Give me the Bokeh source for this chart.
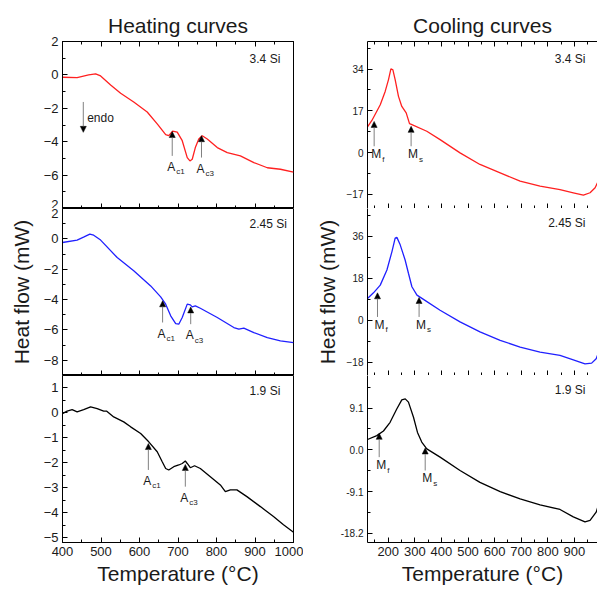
from bokeh.plotting import figure
from bokeh.models import (LinearAxis, FixedTicker, SingleIntervalTicker, Range1d,
                          Label, Arrow, NormalHead, Title, PrintfTickFormatter,
                          CustomJSTickFormatter)
from bokeh.layouts import row, column
from bokeh.embed import file_html
from bokeh.resources import INLINE

FONT = "Liberation Sans"

# ---------------- data ----------------
heat_T_34 = [400, 438, 468, 486, 499, 525, 551, 585, 620, 646, 668, 676, 686, 698, 711, 724, 731, 737, 745, 754, 763, 776, 802, 828, 862, 897, 932, 966, 1000]
heat_HF_34 = [-0.14, -0.16, 0.0, 0.06, -0.06, -0.6, -1.1, -1.62, -2.22, -2.93, -3.58, -3.64, -3.37, -3.43, -3.94, -4.95, -5.15, -5.05, -4.35, -3.84, -3.64, -3.84, -4.35, -4.65, -4.85, -5.25, -5.56, -5.65, -5.82]

heat_T_245 = [400, 438, 456, 471, 481, 499, 542, 585, 629, 655, 668, 681, 694, 702, 711, 724, 732, 737, 745, 758, 802, 845, 858, 871, 897, 932, 966, 1000]
heat_HF_245 = [-0.24, -0.08, 0.13, 0.31, 0.24, -0.08, -1.23, -2.1, -3.1, -3.82, -4.3, -5.07, -5.58, -5.62, -5.18, -4.3, -4.35, -4.48, -4.41, -4.57, -5.18, -5.84, -5.95, -5.88, -6.17, -6.5, -6.72, -6.83]

heat_T_19 = [400, 412, 425, 438, 455, 473, 490, 507, 515, 533, 559, 577, 603, 624, 646, 659, 668, 676, 689, 702, 711, 719, 724, 732, 743, 758, 784, 810, 823, 836, 853, 879, 914, 948, 974, 1000]
heat_HF_19 = [-0.03, 0.07, 0.13, 0.04, 0.13, 0.24, 0.17, 0.07, 0.07, -0.16, -0.36, -0.56, -0.83, -1.16, -1.56, -1.96, -2.23, -2.29, -2.16, -2.09, -2.03, -1.93, -2.03, -2.2, -2.12, -2.23, -2.56, -2.89, -3.16, -3.09, -3.09, -3.36, -3.76, -4.16, -4.49, -4.79]

cool_T_34 = [122, 138.5, 170, 188.5, 201, 210, 217.5, 226, 238.5, 251, 267.5, 280, 289, 345, 395, 470, 545, 621, 696, 771, 846, 896, 934, 959, 978, 990]
cool_HF_34 = [10.5, 13.1, 19.5, 24.9, 29.7, 34.1, 33.7, 29.7, 22.9, 18.8, 16.2, 11.8, 11.4, 8.7, 5.3, -0.1, -4.8, -8.2, -11.6, -13.6, -15.0, -16.3, -17.3, -16.3, -14.3, -11.5]

cool_T_245 = [122, 144.5, 170, 195, 214, 226, 232.5, 245, 263.5, 276, 289, 308, 332.5, 395, 470, 545, 621, 696, 771, 846, 896, 940, 965, 982, 992]
cool_HF_245 = [9.4, 11.8, 15.1, 21.6, 29.5, 35.3, 35.6, 32.4, 25.9, 20.2, 14.4, 10.8, 9.0, 4.3, -0.7, -5.0, -8.6, -11.5, -13.7, -15.1, -17.0, -18.7, -18.4, -16.5, -13.5]

cool_T_19 = [122, 157, 182, 207, 232, 251, 264, 276, 295, 310, 326, 345, 395, 470, 545, 621, 696, 771, 846, 896, 940, 959, 982, 992]
cool_HF_19 = [2.25, 3.1, 4.1, 6.0, 8.9, 10.9, 11.1, 10.4, 7.1, 3.8, 1.7, 0.2, -1.6, -4.5, -7.1, -9.1, -10.7, -12.0, -13.0, -14.6, -15.7, -15.4, -13.6, -11.8]

samples = ["3.4 Si", "2.45 Si", "1.9 Si"]

# transition markers: (temperature, arrow tip value, arrow tail value, subscript)
heat_marks = [
    [(685, -3.39, -4.85, "c1"), (761, -3.64, -4.95, "c3")],
    [(660, -4.08, -5.51, "c1"), (733, -4.48, -5.62, "c3")],
    [(623, -1.23, -2.29, "c1"), (719, -2.07, -2.96, "c3")],
]
cool_marks = [
    [(147, 12.7, 2.6, "f"), (286, 10.7, 2.6, "s")],
    [(159.6, 11.8, 1.44, "f"), (316, 9.8, 1.44, "s")],
    [(166, 3.6, -1.6, "f"), (339, 0.4, -4.5, "s")],
]

heat_yranges = [(-8, 2), (-9, 2), (-5.2, 1.5)]
heat_yticks = [[-8, -6, -4, -2, 0, 2], [-8, -6, -4, -2, 0, 2], [-5, -4, -3, -2, -1, 0, 1]]
heat_yminor = [[-7, -5, -3, -1, 1], [-7, -5, -3, -1, 1], [-4.5, -3.5, -2.5, -1.5, -0.5, 0.5]]
# the "2" of the middle panel sits on the shared edge: upper half drawn by the top panel
heat_ylabel_over = [{-8: "2"}, {}, {}]
heat_label_y = [0.95, 0.97, 0.87]

cool_yranges = [(-22.7, 45.2), (-23.7, 48), (-20.2, 16.2)]
cool_yticks = [[-17, 0, 17, 34], [-18, 0, 18, 36], [-18.2, -9.1, 0, 9.1]]
cool_yminor = [[-8.5, 8.5, 25.5, 42.5], [-9, 9, 27, 45], [-13.65, -4.55, 4.55, 13.65]]
cool_label_y = [38.1, 41.8, 13.1]

heat_x = (400, 1000)
cool_x = (122, 987)

colors = ["#ff2020", "#2020ff", "#000000"]

# ---------------- layout constants ----------------
FRAME_H = 167
TOP_B = 41
BOT_B = 49

EMPTY = CustomJSTickFormatter(code="return '';")


def style_axis(ax, label_size, show_labels):
    ax.axis_line_color = "black"
    ax.axis_line_width = 1
    ax.major_tick_in = 5
    ax.major_tick_out = 0
    ax.minor_tick_in = 3
    ax.minor_tick_out = 0
    ax.major_tick_line_color = "black"
    ax.minor_tick_line_color = "black"
    ax.major_label_text_font = FONT
    ax.major_label_text_color = "#1a1a1a"
    if show_labels:
        ax.major_label_text_font_size = label_size
        ax.major_label_standoff = 4
    else:
        ax.formatter = EMPTY
        ax.major_label_text_font_size = "0px"
        ax.major_label_standoff = 0


def sub_label(p, x, y, main, sub, kind):
    if kind == "A":
        p.add_layout(Label(x=x, y=y, x_offset=-1, y_offset=-4, text=main,
                           text_align="center", text_baseline="top",
                           text_font=FONT, text_font_size="12px", text_color="#1a1a1a"))
        p.add_layout(Label(x=x, y=y, x_offset=4, y_offset=-16, text=sub,
                           text_align="left", text_baseline="alphabetic",
                           text_font=FONT, text_font_size="8px", text_color="#1a1a1a"))
    else:
        p.add_layout(Label(x=x, y=y, x_offset=-3, y_offset=-1, text=main,
                           text_align="left", text_baseline="top",
                           text_font=FONT, text_font_size="12px", text_color="#1a1a1a"))
        p.add_layout(Label(x=x, y=y, x_offset=8, y_offset=-13, text=sub,
                           text_align="left", text_baseline="alphabetic",
                           text_font=FONT, text_font_size="8px", text_color="#1a1a1a"))


def make_panel(i, col):
    heating = col == 0
    top = i == 0
    bottom = i == 2
    height = FRAME_H + (TOP_B if top else 0) + (BOT_B if bottom else 0)
    if heating:
        width, bl, br = 303, 62, 10
        xr = heat_x
        yr = heat_yranges[i]
    else:
        width, bl, br = 294, 64, 0
        xr = cool_x
        yr = cool_yranges[i]
    p = figure(width=width, height=height,
               x_range=Range1d(*xr), y_range=Range1d(*yr),
               output_backend="svg", toolbar_location=None,
               min_border_left=bl, min_border_right=br,
               min_border_top=TOP_B if top else 0,
               min_border_bottom=BOT_B if bottom else 0,
               background_fill_color="white", border_fill_color="white")
    p.grid.visible = False
    p.outline_line_color = "black" if heating else None
    p.outline_line_width = 1

    # x axis
    xa = p.xaxis[0]
    xa.ticker = SingleIntervalTicker(interval=100, num_minor_ticks=2)
    style_axis(xa, "13px", bottom)
    if bottom:
        xa.axis_label = "Temperature (°C)"
        xa.axis_label_text_font = FONT
        xa.axis_label_text_font_size = "21px"
        xa.axis_label_text_font_style = "normal"
        xa.axis_label_standoff = 3
        xa.axis_label_text_color = "#1a1a1a"

    # y axis
    ya = p.yaxis[0]
    if heating:
        ya.ticker = FixedTicker(ticks=heat_yticks[i], minor_ticks=heat_yminor[i])
        style_axis(ya, "13px", True)
        if heat_ylabel_over[i]:
            ya.major_label_overrides = heat_ylabel_over[i]
    else:
        ya.ticker = FixedTicker(ticks=cool_yticks[i], minor_ticks=cool_yminor[i])
        style_axis(ya, "10px", True)
        if i == 2:
            ya.formatter = PrintfTickFormatter(format="%.1f")
    if i == 1:
        ya.axis_label = "Heat flow (mW)"
        ya.axis_label_text_font = FONT
        ya.axis_label_text_font_size = "21px"
        ya.axis_label_text_font_style = "normal"
        ya.axis_label_standoff = 8 if heating else 5
        ya.axis_label_text_color = "#1a1a1a"

    if top:
        ta = LinearAxis(ticker=SingleIntervalTicker(interval=100, num_minor_ticks=2))
        style_axis(ta, "0px", False)
        p.add_layout(ta, "above")
        p.add_layout(Title(text="Heating curves" if heating else "Cooling curves",
                           align="center", text_font=FONT, text_font_size="21px",
                           text_font_style="normal", text_color="#1a1a1a", standoff=10),
                     "above")

    # curve
    if heating:
        T = [heat_T_34, heat_T_245, heat_T_19][i]
        H = [heat_HF_34, heat_HF_245, heat_HF_19][i]
    else:
        T = [cool_T_34, cool_T_245, cool_T_19][i]
        H = [cool_HF_34, cool_HF_245, cool_HF_19][i]
    p.line(T, H, line_color=colors[i], line_width=1.3)

    # sample label
    if heating:
        p.add_layout(Label(x=886, y=heat_label_y[i], text=samples[i], text_align="left",
                           text_baseline="middle", text_font=FONT, text_font_size="12px",
                           text_color="#1a1a1a"))
    else:
        p.add_layout(Label(x=942, y=cool_label_y[i], text=samples[i], text_align="right",
                           text_baseline="middle", text_font=FONT, text_font_size="12px",
                           text_color="#1a1a1a"))

    # transition arrows
    marks = heat_marks[i] if heating else cool_marks[i]
    for (t, tip, tail, sub) in marks:
        p.add_layout(Arrow(end=NormalHead(size=6, fill_color="black", line_color="black", line_width=0.5),
                           x_start=t, y_start=tail, x_end=t, y_end=tip,
                           line_color="#808080", line_width=1))
        sub_label(p, t, tail, "A" if heating else "M", sub, "A" if heating else "M")

    if heating and top:
        p.add_layout(Arrow(end=NormalHead(size=6, fill_color="black", line_color="black", line_width=0.5),
                           x_start=454, y_start=-1.62, x_end=454, y_end=-3.44,
                           line_color="#808080", line_width=1))
        p.add_layout(Label(x=464, y=-2.56, text="endo", text_align="left", text_baseline="middle",
                           text_font=FONT, text_font_size="12px", text_color="#1a1a1a"))
    return p


left = column(*[make_panel(i, 0) for i in range(3)], spacing=0)
right = column(*[make_panel(i, 1) for i in range(3)], spacing=0)
layout = row(left, right, spacing=0)

open("out.html", "w").write(file_html(layout, INLINE))
